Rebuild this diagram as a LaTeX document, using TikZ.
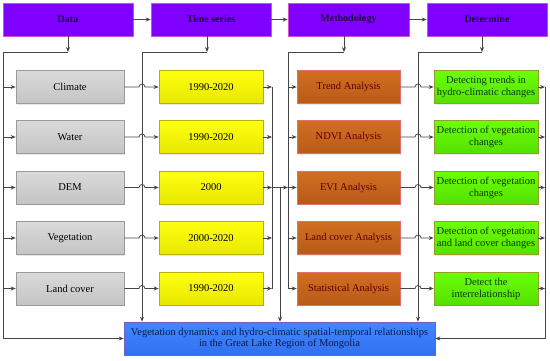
\documentclass[tikz,border=0pt]{standalone}
\usepackage{fontspec}
\setmainfont{Liberation Serif}
\usetikzlibrary{arrows.meta,calc,shadows}
\definecolor{hdr}{HTML}{7F00FF}
\definecolor{hdrb}{HTML}{D050D0}
\definecolor{hdrt}{HTML}{1E0038}
\definecolor{gryt}{HTML}{DADADA}
\definecolor{gryb}{HTML}{C4C4C4}
\definecolor{grybd}{HTML}{9A9A9A}
\definecolor{yelt}{HTML}{FFFF10}
\definecolor{yelb}{HTML}{E8E800}
\definecolor{yelbd}{HTML}{B8B000}
\definecolor{orat}{HTML}{D26E22}
\definecolor{orab}{HTML}{B85A18}
\definecolor{orabd}{HTML}{E07070}
\definecolor{oratx}{HTML}{5A0000}
\definecolor{grnt}{HTML}{6CFF08}
\definecolor{grnb}{HTML}{55E000}
\definecolor{grnbd}{HTML}{90A020}
\definecolor{grntx}{HTML}{0A3A00}
\definecolor{blut}{HTML}{4287FF}
\definecolor{blub}{HTML}{3070F0}
\definecolor{blubd}{HTML}{7060C0}
\definecolor{blutx}{HTML}{0A1A50}
\definecolor{lc}{HTML}{454545}
\begin{document}
\begin{tikzpicture}[x=1pt,y=-1pt,
  box/.style={draw, line width=0.6pt, minimum height=33pt, inner sep=1pt, align=center,
    font=\fontsize{10.5}{12}\selectfont,
    drop shadow={opacity=0.18, shadow xshift=1pt, shadow yshift=-1pt}},
  header/.style={box, fill=hdr, draw=hdrb, text=hdrt, font=\bfseries\fontsize{10}{12}\selectfont},
  graybox/.style={box, top color=gryt, bottom color=gryb, draw=grybd, minimum width=108pt},
  yelbox/.style={box, top color=yelt, bottom color=yelb, draw=yelbd, minimum width=104pt},
  orabox/.style={box, top color=orat, bottom color=orab, draw=orabd, text=oratx, minimum width=103pt},
  grnbox/.style={box, top color=grnt, bottom color=grnb, draw=grnbd, text=grntx, minimum width=104pt},
  blubox/.style={box, top color=blut, bottom color=blub, draw=blubd, text=blutx, minimum width=311pt,
    font=\fontsize{10.5}{11.5}\selectfont},
  line/.style={draw=lc, line width=0.8pt},
  conn/.style={line, -{Stealth[length=5pt,width=4pt]}}
]
\useasboundingbox (0,0) rectangle (550,360);

% headers
\node[header, minimum width=130pt] (data) at (68,19.5) {Data};
\node[header, minimum width=120pt] (ts) at (211,19.5) {Time series};
\node[header, minimum width=121pt] (meth) at (348.5,19.5) {Methodology};
\node[header, minimum width=120pt] (det) at (487,19.5) {Determine};

% rows
\node[graybox] (g1) at (70,87) {Climate};
\node[graybox] (g2) at (70,137) {Water};
\node[graybox] (g3) at (70,187.5) {DEM};
\node[graybox] (g4) at (70,238) {Vegetation};
\node[graybox] (g5) at (70,288.5) {Land cover};

\node[yelbox] (y1) at (211,87) {1990-2020};
\node[yelbox] (y2) at (211,137) {1990-2020};
\node[yelbox] (y3) at (211,187.5) {2000};
\node[yelbox] (y4) at (211,238) {2000-2020};
\node[yelbox] (y5) at (211,288.5) {1990-2020};

\node[orabox] (o1) at (348.5,87) {Trend Analysis};
\node[orabox] (o2) at (348.5,137) {NDVI Analysis};
\node[orabox] (o3) at (348.5,187.5) {EVI Analysis};
\node[orabox] (o4) at (348.5,238) {Land cover Analysis};
\node[orabox] (o5) at (348.5,288.5) {Statistical Analysis};

\node[grnbox] (r1) at (486,87) {Detecting trends in\\hydro-climatic changes};
\node[grnbox] (r2) at (486,137) {Detection of vegetation\\changes};
\node[grnbox] (r3) at (486,187.5) {Detection of vegetation\\changes};
\node[grnbox] (r4) at (486,238) {Detection of vegetation\\and land cover changes};
\node[grnbox] (r5) at (486,288.5) {Detect the\\interrelationship};

\node[blubox] (res) at (279.5,338.5) {Vegetation dynamics and hydro-climatic spatial-temporal relationships\\in the Great Lake Region of Mongolia};

% header chain
\draw[conn] (data) -- (ts);
\draw[conn] (ts) -- (meth);
\draw[conn] (meth) -- (det);

% bus coordinates
\coordinate (dj) at (68,52);
\coordinate (lb) at (3,52);
\coordinate (tj) at (207,52);
\coordinate (tb) at (142,52);
\coordinate (mj) at (344,52);
\coordinate (mb) at (288,52);
\coordinate (dtj) at (482,52);
\coordinate (dtb) at (418,52);
\coordinate (yb) at (272,87);
\coordinate (yd) at (280,187.5);
\coordinate (rb) at (545,87);

% Data bus
\draw[conn] (dj |- data.south) -- (dj);
\draw[conn] (dj) -- (lb) |- (res.west);
\foreach \i in {1,...,5} \draw[conn] (lb |- g\i.west) -- (g\i.west);

% Time series bus
\draw[conn] (tj |- ts.south) -- (tj);
\draw[conn] (tj) -- (tb) -- (tb |- res.north);
\foreach \i in {1,...,5}
  \draw[conn] (g\i.east) -- ($(tb |- g\i.east)+(-3pt,0)$) arc[start angle=180,end angle=0,radius=3pt] -- (y\i.west);

% yellow bus
\foreach \i in {1,...,5} \draw[conn] (y\i.east) -- (yb |- y\i.east);
\draw[line] (yb |- y1.east) -- (yb |- y5.east);
\draw[conn] (yb |- y3.east) -- (mb |- y3.east);
\draw[conn] (yd) -- (yd |- res.north);

% Methodology bus
\draw[conn] (mj |- meth.south) -- (mj);
\draw[line] (mj) -- (mb) -- (mb |- o5.west);
\foreach \i in {1,...,5} \draw[conn] (mb |- o\i.west) -- (o\i.west);

% Determine bus
\draw[conn] (dtj |- det.south) -- (dtj);
\draw[conn] (dtj) -- (dtb) -- (dtb |- res.north);
\foreach \i in {1,...,5}
  \draw[conn] (o\i.east) -- ($(dtb |- o\i.east)+(-3pt,0)$) arc[start angle=180,end angle=0,radius=3pt] -- (r\i.west);

% right bus
\foreach \i in {1,...,5} \draw[conn] (r\i.east) -- (rb |- r\i.east);
\draw[conn] (rb) -- (rb |- res.east) -- (res.east);
\end{tikzpicture}
\end{document}
